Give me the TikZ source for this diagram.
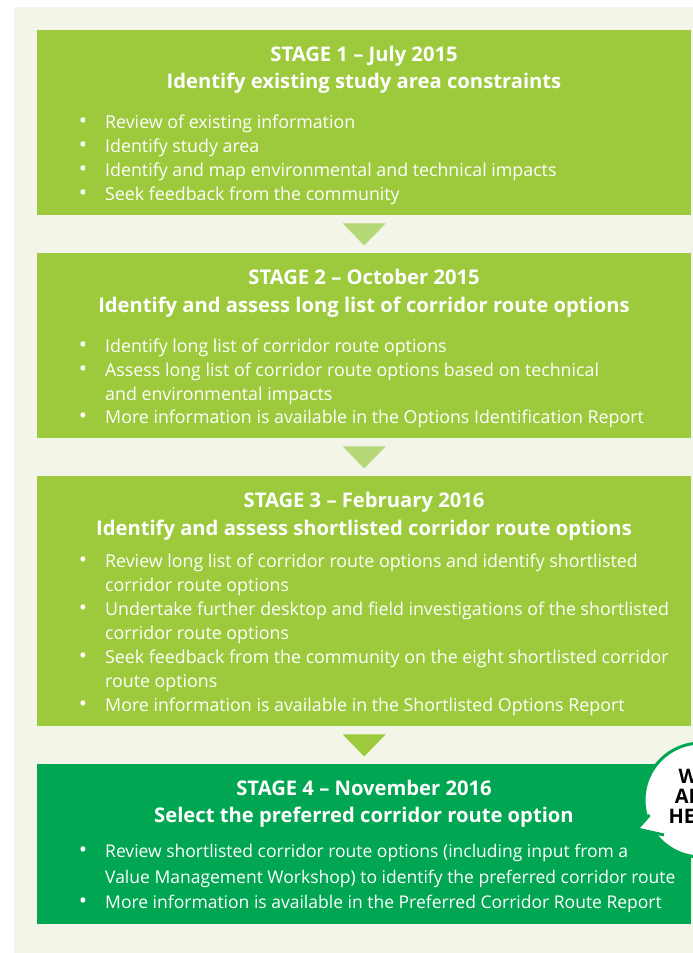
\documentclass[tikz,border=0pt]{standalone}
\usepackage{fontspec}
\setmainfont{Open Sans}
\usetikzlibrary{shapes.geometric}
\definecolor{panel}{HTML}{F2F5E7}
\definecolor{lgreen}{HTML}{9CCA3C}
\definecolor{dgreen}{HTML}{00A651}
\definecolor{tri}{HTML}{B5D877}
\tikzset{
  stagebox/.style={draw=none, fill=lgreen, inner sep=0pt, anchor=north west},
  ttl/.style={anchor=base, text=white, font=\fontsize{20.2}{22}\selectfont\bfseries, inner sep=0pt},
  btxt/.style={anchor=base west, text=white, font=\fontsize{17.8}{20}\selectfont, inner sep=0pt},
  btxtf/.style={btxt, font=\fontsize{17.5}{20}\selectfont},
  bdot/.style={anchor=base, text=white, font=\fontsize{22}{20}\selectfont, inner sep=0pt},
}
\begin{document}
\begin{tikzpicture}[x=1pt,y=-1pt]
\useasboundingbox (0,0) rectangle (693,953);
\clip (0,0) rectangle (693,953);
\fill[white] (0,0) rectangle (693,953);
\fill[panel] (14,7) rectangle (700,960);
% boxes
\node[stagebox, minimum width=654pt, minimum height=185pt] (s1) at (37,30) {};
\node[stagebox, minimum width=654pt, minimum height=185pt] (s2) at (37,253) {};
\node[stagebox, minimum width=654pt, minimum height=250pt] (s3) at (37,476) {};
\node[stagebox, fill=dgreen, minimum width=654pt, minimum height=160pt] (s4) at (37,764) {};
% arrows
\fill[tri] ([xshift=-21.5pt,yshift=-8pt]s1.south) -- ([xshift=21.5pt,yshift=-8pt]s1.south) -- ([yshift=-30pt]s1.south) -- cycle;
\fill[tri] ([xshift=-21.5pt,yshift=-8pt]s2.south) -- ([xshift=21.5pt,yshift=-8pt]s2.south) -- ([yshift=-30pt]s2.south) -- cycle;
\fill[lgreen] ([xshift=-21.5pt,yshift=-8pt]s3.south) -- ([xshift=21.5pt,yshift=-8pt]s3.south) -- ([yshift=-30pt]s3.south) -- cycle;
% stage 1
\node[ttl] (t1a) at (364,61) {STAGE 1 – July 2015};
\node[ttl] (t1b) at (364,88) {Identify existing study area constraints};
\node[bdot] at (83,128) {•}; \node[btxt] (b1a) at (105,128) {Review of existing information};
\node[bdot] at (83,152) {•}; \node[btxt] (b1b) at (105,152) {Identify study area};
\node[bdot] at (83,176) {•}; \node[btxt] (b1c) at (105,176) {Identify and map environmental and technical impacts};
\node[bdot] at (83,200) {•}; \node[btxt] (b1d) at (105,200) {Seek feedback from the community};
% stage 2
\node[ttl] (t2a) at (364,284) {STAGE 2 – October 2015};
\node[ttl] (t2b) at (364,312) {Identify and assess long list of corridor route options};
\node[bdot] at (83,352) {•}; \node[btxt] (b2a) at (105,352) {Identify long list of corridor route options};
\node[bdot] at (83,376) {•}; \node[btxt] (b2b) at (105,376) {Assess long list of corridor route options based on technical};
\node[btxt] (b2c) at (105,400) {and environmental impacts};
\node[bdot] at (83,423) {•}; \node[btxt] (b2d) at (105,423) {More information is available in the Options Identification Report};
% stage 3
\node[ttl] (t3a) at (364,507) {STAGE 3 – February 2016};
\node[ttl] (t3b) at (364,535) {Identify and assess shortlisted corridor route options};
\node[bdot] at (83,567) {•}; \node[btxt] (b3a) at (105,567) {Review long list of corridor route options and identify shortlisted};
\node[btxt] (b3b) at (105,591) {corridor route options};
\node[bdot] at (83,615) {•}; \node[btxt] (b3c) at (105,615) {Undertake further desktop and field investigations of the shortlisted};
\node[btxt] (b3d) at (105,639) {corridor route options};
\node[bdot] at (83,663) {•}; \node[btxt] (b3e) at (105,663) {Seek feedback from the community on the eight shortlisted corridor};
\node[btxt] (b3f) at (105,687) {route options};
\node[bdot] at (83,711) {•}; \node[btxt] (b3g) at (105,711) {More information is available in the Shortlisted Options Report};
% stage 4
\node[ttl] (t4a) at (364,795) {STAGE 4 – November 2016};
\node[ttl] (t4b) at (364,822) {Select the preferred corridor route option};
\node[bdot] at (83,857) {•}; \node[btxtf] (b4a) at (105,857) {Review shortlisted corridor route options (including input from a};
\node[btxtf] (b4b) at (105,883) {Value Management Workshop) to identify the preferred corridor route};
\node[bdot] at (83,908) {•}; \node[btxtf] (b4c) at (105,908) {More information is available in the Preferred Corridor Route Report};
% badge
\node[circle, fill=white, draw=dgreen, line width=3pt, minimum size=114pt, inner sep=0pt] (badge) at (701,800) {};
\fill[white] (650,812) -- (637,829) -- (668,836) -- cycle;
\draw[dgreen, line width=3pt, line join=miter] (649.5,815) -- (637,829) -- (664,835);
\node[align=center, font=\fontsize{20}{20}\selectfont\bfseries, text=black, inner sep=0pt] (badget) at (694,796) {WE\\ARE\\HERE};
\end{tikzpicture}
\end{document}
